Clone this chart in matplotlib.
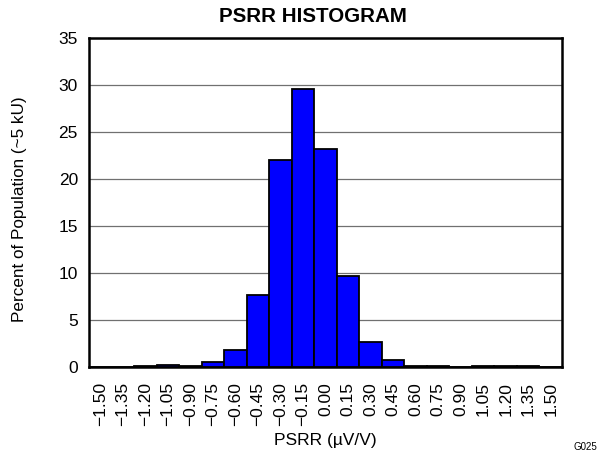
import matplotlib
matplotlib.use('Agg')
import matplotlib.pyplot as plt
import numpy as np

plt.rcParams['font.family'] = ['Liberation Sans', 'DejaVu Sans']

# bin centres (uV/V) and percent of population
bins = ['-1.50', '-1.35', '-1.20', '-1.05', '-0.90', '-0.75', '-0.60', '-0.45', '-0.30', '-0.15', '0.00',
        '0.15', '0.30', '0.45', '0.60', '0.75', '0.90', '1.05', '1.20', '1.35', '1.50']
percent = [0.0, 0.05, 0.1, 0.2, 0.1, 0.55, 1.85, 7.7, 22.0, 29.55, 23.15,
           9.65, 2.65, 0.7, 0.15, 0.1, 0.03, 0.08, 0.08, 0.1, 0.0]

fig = plt.figure(figsize=(5.97, 4.57), dpi=100)
ax = fig.add_axes([89/597, 1 - 367/457, (562-89)/597, (367-38)/457])

x = np.arange(len(bins))
ax.bar(x, percent, width=1.0, color='#0000ff', edgecolor='black', linewidth=1.3, zorder=3)

ax.set_xlim(-0.5, len(bins) - 0.5)
ax.set_ylim(0, 35)
ax.set_yticks(range(0, 36, 5))
ax.yaxis.grid(True, color='#707070', linewidth=0.9, zorder=0)
ax.set_xticks(x)
ax.set_xticklabels([b.replace('-', '\u2212') for b in bins], rotation=90)
ax.tick_params(axis='both', length=0, labelsize=12.5)
ax.tick_params(axis='x', pad=11)
ax.tick_params(axis='y', pad=8)
for s in ax.spines.values():
    s.set_linewidth(1.8)

ax.set_xlabel('PSRR (\u00b5V/V)', fontsize=12.5, labelpad=5)
fig.text(20/597, 1 - 209/457, 'Percent of Population (~5 kU)', ha='center', va='center',
         rotation=90, fontsize=12.3)
fig.text(313/597, 1 - 17/457, 'PSRR HISTOGRAM', ha='center', va='center', fontsize=14.8, fontweight='bold')
fig.text(573/597, 1 - 447/457, 'G025', ha='left', va='center', fontsize=7)

fig.savefig('out.png', dpi=100)
